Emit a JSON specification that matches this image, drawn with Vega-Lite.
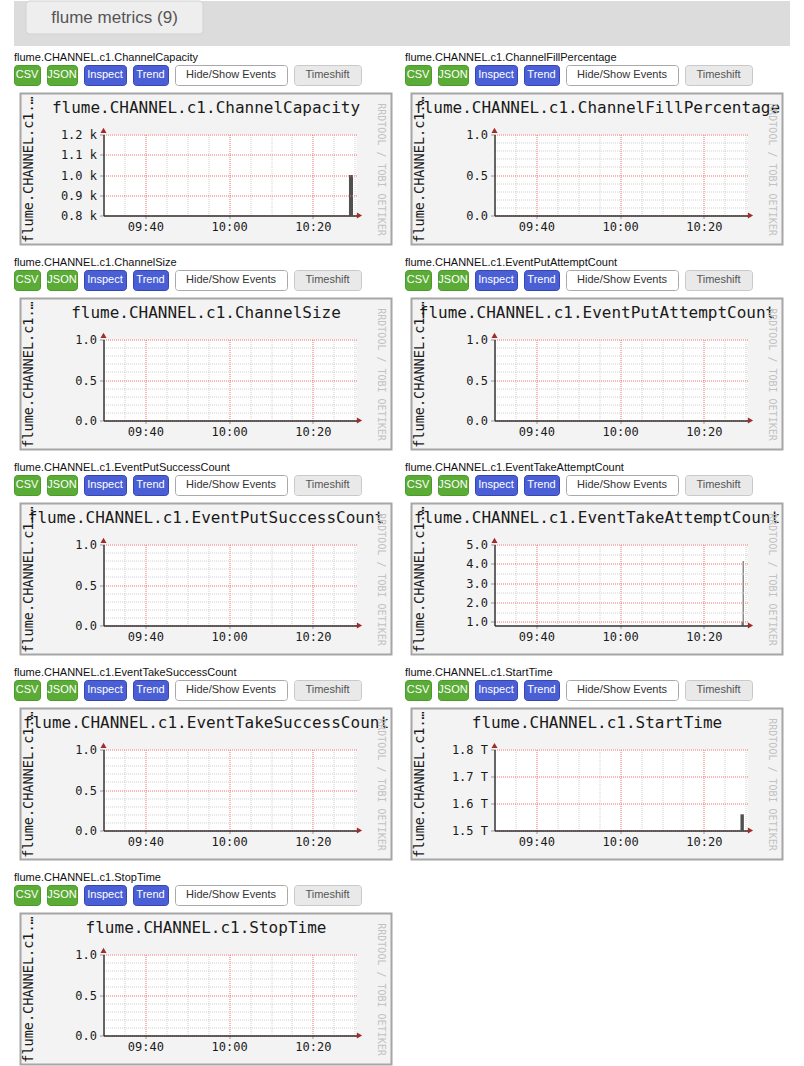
{
"$schema": "https://vega.github.io/schema/vega-lite/v6.json",
"background": "white",
"padding": {"left": 13, "top": 0, "right": 0, "bottom": 0},
"datasets": {
"one": [{"k": 1}],
"cap": [{"t0": "2019-06-08T10:28:37Z", "t1": "2019-06-08T10:29:35Z", "v": 1000}],
"fill": [{"t0": "2019-06-08T10:28:37Z", "t1": "2019-06-08T10:29:35Z", "v": null}],
"size": [{"t0": "2019-06-08T10:28:37Z", "t1": "2019-06-08T10:29:35Z", "v": null}],
"putAttempt": [{"t0": "2019-06-08T10:28:37Z", "t1": "2019-06-08T10:29:35Z", "v": null}],
"putSuccess": [{"t0": "2019-06-08T10:28:37Z", "t1": "2019-06-08T10:29:35Z", "v": null}],
"takeAttempt": [{"t0": "2019-06-08T10:29:00Z", "t1": "2019-06-08T10:29:16Z", "v": 1.0}, {"t0": "2019-06-08T10:29:16Z", "t1": "2019-06-08T10:29:30Z", "v": 4.15}, {"t0": "2019-06-08T10:29:30Z", "t1": "2019-06-08T10:29:34Z", "v": 1.0}],
"takeSuccess": [{"t0": "2019-06-08T10:28:37Z", "t1": "2019-06-08T10:29:35Z", "v": null}],
"start": [{"t0": "2019-06-08T10:28:44Z", "t1": "2019-06-08T10:29:33Z", "v": 1559900000000}],
"stop": [{"t0": "2019-06-08T10:28:37Z", "t1": "2019-06-08T10:29:35Z", "v": null}]
},
"spacing": 5,
"vconcat": [
{"width": 776, "height": 45, "view": {"fill": "#dcdcdc", "stroke": null},
 "data": {"values": [{"label": "flume metrics (9)"}]},
 "layer": [
  {"mark": {"type": "rect", "color": "#eeeeee", "stroke": "#d2d2d2", "cornerRadius": 4},
   "encoding": {"x": {"field": "label", "type": "nominal", "scale": {"range": [12, 189], "paddingInner": 0, "paddingOuter": 0}, "axis": null},
                "y": {"field": "label", "type": "nominal", "scale": {"range": [0, 33], "paddingInner": 0, "paddingOuter": 0}, "axis": null}}},
  {"mark": {"type": "text", "fontSize": 17, "color": "#555555"},
   "encoding": {"x": {"field": "label", "type": "nominal"}, "y": {"field": "label", "type": "nominal"}, "text": {"field": "label"}}}
 ]},
{"spacing": 10, "vconcat": [
{"spacing": 5, "hconcat": [
{"title": {"text": "flume.CHANNEL.c1.ChannelCapacity", "anchor": "start", "frame": "group", "font": "Liberation Sans", "fontSize": 11, "color": "#111111", "offset": -7, "baseline": "alphabetic"},
 "spacing": 6.5, "center": true,
 "vconcat": [
  {"spacing": 7, "bounds": "flush", "hconcat": [
   {"width": 26, "height": 20, "view": {"fill": "#5bab37", "stroke": "#4b9a2b", "cornerRadius": 3}, "data": {"values": [{"b": "CSV"}]}, "mark": {"type": "text", "color": "#ffffff"}, "encoding": {"text": {"field": "b"}}},
   {"width": 30, "height": 20, "view": {"fill": "#5bab37", "stroke": "#4b9a2b", "cornerRadius": 3}, "data": {"values": [{"b": "JSON"}]}, "mark": {"type": "text", "color": "#ffffff"}, "encoding": {"text": {"field": "b"}}},
   {"width": 42, "height": 20, "view": {"fill": "#4a5fd6", "stroke": "#3647b0", "cornerRadius": 3}, "data": {"values": [{"b": "Inspect"}]}, "mark": {"type": "text", "color": "#ffffff"}, "encoding": {"text": {"field": "b"}}},
   {"width": 35, "height": 20, "view": {"fill": "#4a5fd6", "stroke": "#3647b0", "cornerRadius": 3}, "data": {"values": [{"b": "Trend"}]}, "mark": {"type": "text", "color": "#ffffff"}, "encoding": {"text": {"field": "b"}}},
   {"width": 112, "height": 20, "view": {"fill": "#ffffff", "stroke": "#a9a9a9", "cornerRadius": 3}, "data": {"values": [{"b": "Hide/Show Events"}]}, "mark": {"type": "text", "color": "#333333"}, "encoding": {"text": {"field": "b"}}},
   {"width": 67, "height": 20, "view": {"fill": "#e9e9e9", "stroke": "#c9c9c9", "cornerRadius": 3}, "data": {"values": [{"b": "Timeshift"}]}, "mark": {"type": "text", "color": "#555555"}, "encoding": {"text": {"field": "b"}}},
   {"width": 31, "height": 20, "view": {"fill": "#ffffff", "stroke": null}, "data": {"values": [{"b": " "}]}, "mark": {"type": "text"}, "encoding": {"text": {"field": "b"}}}
  ]},
  {"width": 371, "height": 151, "view": {"fill": "#f3f3f3", "stroke": "#a6a6a6", "strokeWidth": 2},
   "title": "flume.CHANNEL.c1.ChannelCapacity",
   "layer": [
    {"data": {"name": "one"}, "mark": {"type": "rect", "color": "#ffffff"},
     "encoding": {
      "x": {"datum": 1559986200000, "type": "temporal", "scale": {"type": "utc", "domain": [1559986200000, 1559989825000], "range": [83, 336]}, "axis": {"orient": "top", "zindex": 1, "values": [1559986500000, 1559986800000, 1559987100000, 1559987400000, 1559987700000, 1559988000000, 1559988300000, 1559988600000, 1559988900000, 1559989200000, 1559989500000, 1559989800000], "gridColor": {"condition": {"test": "datum.value % 1200000 === 0", "value": "#f07070"}, "value": "#d0d0d0"}, "title": null}},
      "x2": {"datum": 1559989825000},
      "y": {"datum": 800, "type": "quantitative", "scale": {"domain": [800, 1200], "range": [122, 41], "nice": false, "zero": false}, "axis": {"orient": "left", "offset": 0, "zindex": 1, "values": [800, 900, 1000, 1100, 1200], "labels": false, "ticks": false, "domain": false, "gridColor": "#f07070", "title": null}},
      "y2": {"datum": 1200}}},
    {"data": {"name": "cap"}, "mark": {"type": "rect", "color": "#505050"},
     "encoding": {
      "x": {"field": "t0", "type": "temporal", "axis": {"orient": "bottom", "zindex": 1, "grid": false, "values": [1559986800000, 1559988000000, 1559989200000], "format": "%H:%M", "title": null}},
      "x2": {"field": "t1"},
      "y": {"field": "v", "type": "quantitative", "axis": {"orient": "left", "zindex": 1, "grid": false, "values": [800, 900, 1000, 1100, 1200], "labelExpr": "format(datum.value/1000, '.1f') + ' k'", "title": "flume.CHANNEL.c1.ChannelCapacity"}},
      "y2": {"datum": 800}}},
    {"data": {"name": "one"}, "mark": {"type": "point", "shape": "triangle-up", "filled": true, "color": "#a02c2c", "opacity": 1, "size": 36, "clip": false},
     "encoding": {"x": {"datum": 1559986200000, "type": "temporal", "axis": null}, "y": {"datum": 1220, "type": "quantitative", "axis": null}}},
    {"data": {"name": "one"}, "mark": {"type": "point", "shape": "triangle-right", "filled": true, "color": "#a02c2c", "opacity": 1, "size": 36, "clip": false},
     "encoding": {"x": {"datum": 1559989868000, "type": "temporal", "axis": null}, "y": {"datum": 800, "type": "quantitative", "axis": {"orient": "right", "zindex": 1, "grid": false, "title": "RRDTOOL / TOBI OETIKER"}}}}
   ],
   "resolve": {"axis": {"x": "independent", "y": "independent"}}}
 ]},
{"title": {"text": "flume.CHANNEL.c1.ChannelFillPercentage", "anchor": "start", "frame": "group", "font": "Liberation Sans", "fontSize": 11, "color": "#111111", "offset": -7, "baseline": "alphabetic"},
 "spacing": 6.5, "center": true,
 "vconcat": [
  {"spacing": 7, "bounds": "flush", "hconcat": [
   {"width": 26, "height": 20, "view": {"fill": "#5bab37", "stroke": "#4b9a2b", "cornerRadius": 3}, "data": {"values": [{"b": "CSV"}]}, "mark": {"type": "text", "color": "#ffffff"}, "encoding": {"text": {"field": "b"}}},
   {"width": 30, "height": 20, "view": {"fill": "#5bab37", "stroke": "#4b9a2b", "cornerRadius": 3}, "data": {"values": [{"b": "JSON"}]}, "mark": {"type": "text", "color": "#ffffff"}, "encoding": {"text": {"field": "b"}}},
   {"width": 42, "height": 20, "view": {"fill": "#4a5fd6", "stroke": "#3647b0", "cornerRadius": 3}, "data": {"values": [{"b": "Inspect"}]}, "mark": {"type": "text", "color": "#ffffff"}, "encoding": {"text": {"field": "b"}}},
   {"width": 35, "height": 20, "view": {"fill": "#4a5fd6", "stroke": "#3647b0", "cornerRadius": 3}, "data": {"values": [{"b": "Trend"}]}, "mark": {"type": "text", "color": "#ffffff"}, "encoding": {"text": {"field": "b"}}},
   {"width": 112, "height": 20, "view": {"fill": "#ffffff", "stroke": "#a9a9a9", "cornerRadius": 3}, "data": {"values": [{"b": "Hide/Show Events"}]}, "mark": {"type": "text", "color": "#333333"}, "encoding": {"text": {"field": "b"}}},
   {"width": 67, "height": 20, "view": {"fill": "#e9e9e9", "stroke": "#c9c9c9", "cornerRadius": 3}, "data": {"values": [{"b": "Timeshift"}]}, "mark": {"type": "text", "color": "#555555"}, "encoding": {"text": {"field": "b"}}},
   {"width": 31, "height": 20, "view": {"fill": "#ffffff", "stroke": null}, "data": {"values": [{"b": " "}]}, "mark": {"type": "text"}, "encoding": {"text": {"field": "b"}}}
  ]},
  {"width": 371, "height": 151, "view": {"fill": "#f3f3f3", "stroke": "#a6a6a6", "strokeWidth": 2},
   "title": "flume.CHANNEL.c1.ChannelFillPercentage",
   "layer": [
    {"data": {"name": "one"}, "mark": {"type": "rect", "color": "#ffffff"},
     "encoding": {
      "x": {"datum": 1559986200000, "type": "temporal", "scale": {"type": "utc", "domain": [1559986200000, 1559989825000], "range": [83, 336]}, "axis": {"orient": "top", "zindex": 1, "values": [1559986500000, 1559986800000, 1559987100000, 1559987400000, 1559987700000, 1559988000000, 1559988300000, 1559988600000, 1559988900000, 1559989200000, 1559989500000, 1559989800000], "gridColor": {"condition": {"test": "datum.value % 1200000 === 0", "value": "#f07070"}, "value": "#d0d0d0"}, "title": null}},
      "x2": {"datum": 1559989825000},
      "y": {"datum": 0, "type": "quantitative", "scale": {"domain": [0, 1], "range": [122, 41], "nice": false, "zero": false}, "axis": {"orient": "left", "offset": 0, "zindex": 1, "values": [0, 0.1, 0.2, 0.3, 0.4, 0.5, 0.6, 0.7, 0.8, 0.9, 1], "labels": false, "ticks": false, "domain": false, "gridColor": {"condition": {"test": "datum.value === 0 || datum.value === 0.5 || datum.value === 1", "value": "#f07070"}, "value": "#d0d0d0"}, "title": null}},
      "y2": {"datum": 1}}},
    {"data": {"name": "fill"}, "mark": {"type": "rect", "color": "#505050"},
     "encoding": {
      "x": {"field": "t0", "type": "temporal", "axis": {"orient": "bottom", "zindex": 1, "grid": false, "values": [1559986800000, 1559988000000, 1559989200000], "format": "%H:%M", "title": null}},
      "x2": {"field": "t1"},
      "y": {"field": "v", "type": "quantitative", "axis": {"orient": "left", "zindex": 1, "grid": false, "values": [0, 0.5, 1], "format": ".1f", "title": "flume.CHANNEL.c1.ChannelFillPercentage"}},
      "y2": {"datum": 0}}},
    {"data": {"name": "one"}, "mark": {"type": "point", "shape": "triangle-up", "filled": true, "color": "#a02c2c", "opacity": 1, "size": 36, "clip": false},
     "encoding": {"x": {"datum": 1559986200000, "type": "temporal", "axis": null}, "y": {"datum": 1.05, "type": "quantitative", "axis": null}}},
    {"data": {"name": "one"}, "mark": {"type": "point", "shape": "triangle-right", "filled": true, "color": "#a02c2c", "opacity": 1, "size": 36, "clip": false},
     "encoding": {"x": {"datum": 1559989868000, "type": "temporal", "axis": null}, "y": {"datum": 0, "type": "quantitative", "axis": {"orient": "right", "zindex": 1, "grid": false, "title": "RRDTOOL / TOBI OETIKER"}}}}
   ],
   "resolve": {"axis": {"x": "independent", "y": "independent"}}}
 ]}
]},
{"spacing": 5, "hconcat": [
{"title": {"text": "flume.CHANNEL.c1.ChannelSize", "anchor": "start", "frame": "group", "font": "Liberation Sans", "fontSize": 11, "color": "#111111", "offset": -7, "baseline": "alphabetic"},
 "spacing": 6.5, "center": true,
 "vconcat": [
  {"spacing": 7, "bounds": "flush", "hconcat": [
   {"width": 26, "height": 20, "view": {"fill": "#5bab37", "stroke": "#4b9a2b", "cornerRadius": 3}, "data": {"values": [{"b": "CSV"}]}, "mark": {"type": "text", "color": "#ffffff"}, "encoding": {"text": {"field": "b"}}},
   {"width": 30, "height": 20, "view": {"fill": "#5bab37", "stroke": "#4b9a2b", "cornerRadius": 3}, "data": {"values": [{"b": "JSON"}]}, "mark": {"type": "text", "color": "#ffffff"}, "encoding": {"text": {"field": "b"}}},
   {"width": 42, "height": 20, "view": {"fill": "#4a5fd6", "stroke": "#3647b0", "cornerRadius": 3}, "data": {"values": [{"b": "Inspect"}]}, "mark": {"type": "text", "color": "#ffffff"}, "encoding": {"text": {"field": "b"}}},
   {"width": 35, "height": 20, "view": {"fill": "#4a5fd6", "stroke": "#3647b0", "cornerRadius": 3}, "data": {"values": [{"b": "Trend"}]}, "mark": {"type": "text", "color": "#ffffff"}, "encoding": {"text": {"field": "b"}}},
   {"width": 112, "height": 20, "view": {"fill": "#ffffff", "stroke": "#a9a9a9", "cornerRadius": 3}, "data": {"values": [{"b": "Hide/Show Events"}]}, "mark": {"type": "text", "color": "#333333"}, "encoding": {"text": {"field": "b"}}},
   {"width": 67, "height": 20, "view": {"fill": "#e9e9e9", "stroke": "#c9c9c9", "cornerRadius": 3}, "data": {"values": [{"b": "Timeshift"}]}, "mark": {"type": "text", "color": "#555555"}, "encoding": {"text": {"field": "b"}}},
   {"width": 31, "height": 20, "view": {"fill": "#ffffff", "stroke": null}, "data": {"values": [{"b": " "}]}, "mark": {"type": "text"}, "encoding": {"text": {"field": "b"}}}
  ]},
  {"width": 371, "height": 151, "view": {"fill": "#f3f3f3", "stroke": "#a6a6a6", "strokeWidth": 2},
   "title": "flume.CHANNEL.c1.ChannelSize",
   "layer": [
    {"data": {"name": "one"}, "mark": {"type": "rect", "color": "#ffffff"},
     "encoding": {
      "x": {"datum": 1559986200000, "type": "temporal", "scale": {"type": "utc", "domain": [1559986200000, 1559989825000], "range": [83, 336]}, "axis": {"orient": "top", "zindex": 1, "values": [1559986500000, 1559986800000, 1559987100000, 1559987400000, 1559987700000, 1559988000000, 1559988300000, 1559988600000, 1559988900000, 1559989200000, 1559989500000, 1559989800000], "gridColor": {"condition": {"test": "datum.value % 1200000 === 0", "value": "#f07070"}, "value": "#d0d0d0"}, "title": null}},
      "x2": {"datum": 1559989825000},
      "y": {"datum": 0, "type": "quantitative", "scale": {"domain": [0, 1], "range": [122, 41], "nice": false, "zero": false}, "axis": {"orient": "left", "offset": 0, "zindex": 1, "values": [0, 0.1, 0.2, 0.3, 0.4, 0.5, 0.6, 0.7, 0.8, 0.9, 1], "labels": false, "ticks": false, "domain": false, "gridColor": {"condition": {"test": "datum.value === 0 || datum.value === 0.5 || datum.value === 1", "value": "#f07070"}, "value": "#d0d0d0"}, "title": null}},
      "y2": {"datum": 1}}},
    {"data": {"name": "size"}, "mark": {"type": "rect", "color": "#505050"},
     "encoding": {
      "x": {"field": "t0", "type": "temporal", "axis": {"orient": "bottom", "zindex": 1, "grid": false, "values": [1559986800000, 1559988000000, 1559989200000], "format": "%H:%M", "title": null}},
      "x2": {"field": "t1"},
      "y": {"field": "v", "type": "quantitative", "axis": {"orient": "left", "zindex": 1, "grid": false, "values": [0, 0.5, 1], "format": ".1f", "title": "flume.CHANNEL.c1.ChannelSize"}},
      "y2": {"datum": 0}}},
    {"data": {"name": "one"}, "mark": {"type": "point", "shape": "triangle-up", "filled": true, "color": "#a02c2c", "opacity": 1, "size": 36, "clip": false},
     "encoding": {"x": {"datum": 1559986200000, "type": "temporal", "axis": null}, "y": {"datum": 1.05, "type": "quantitative", "axis": null}}},
    {"data": {"name": "one"}, "mark": {"type": "point", "shape": "triangle-right", "filled": true, "color": "#a02c2c", "opacity": 1, "size": 36, "clip": false},
     "encoding": {"x": {"datum": 1559989868000, "type": "temporal", "axis": null}, "y": {"datum": 0, "type": "quantitative", "axis": {"orient": "right", "zindex": 1, "grid": false, "title": "RRDTOOL / TOBI OETIKER"}}}}
   ],
   "resolve": {"axis": {"x": "independent", "y": "independent"}}}
 ]},
{"title": {"text": "flume.CHANNEL.c1.EventPutAttemptCount", "anchor": "start", "frame": "group", "font": "Liberation Sans", "fontSize": 11, "color": "#111111", "offset": -7, "baseline": "alphabetic"},
 "spacing": 6.5, "center": true,
 "vconcat": [
  {"spacing": 7, "bounds": "flush", "hconcat": [
   {"width": 26, "height": 20, "view": {"fill": "#5bab37", "stroke": "#4b9a2b", "cornerRadius": 3}, "data": {"values": [{"b": "CSV"}]}, "mark": {"type": "text", "color": "#ffffff"}, "encoding": {"text": {"field": "b"}}},
   {"width": 30, "height": 20, "view": {"fill": "#5bab37", "stroke": "#4b9a2b", "cornerRadius": 3}, "data": {"values": [{"b": "JSON"}]}, "mark": {"type": "text", "color": "#ffffff"}, "encoding": {"text": {"field": "b"}}},
   {"width": 42, "height": 20, "view": {"fill": "#4a5fd6", "stroke": "#3647b0", "cornerRadius": 3}, "data": {"values": [{"b": "Inspect"}]}, "mark": {"type": "text", "color": "#ffffff"}, "encoding": {"text": {"field": "b"}}},
   {"width": 35, "height": 20, "view": {"fill": "#4a5fd6", "stroke": "#3647b0", "cornerRadius": 3}, "data": {"values": [{"b": "Trend"}]}, "mark": {"type": "text", "color": "#ffffff"}, "encoding": {"text": {"field": "b"}}},
   {"width": 112, "height": 20, "view": {"fill": "#ffffff", "stroke": "#a9a9a9", "cornerRadius": 3}, "data": {"values": [{"b": "Hide/Show Events"}]}, "mark": {"type": "text", "color": "#333333"}, "encoding": {"text": {"field": "b"}}},
   {"width": 67, "height": 20, "view": {"fill": "#e9e9e9", "stroke": "#c9c9c9", "cornerRadius": 3}, "data": {"values": [{"b": "Timeshift"}]}, "mark": {"type": "text", "color": "#555555"}, "encoding": {"text": {"field": "b"}}},
   {"width": 31, "height": 20, "view": {"fill": "#ffffff", "stroke": null}, "data": {"values": [{"b": " "}]}, "mark": {"type": "text"}, "encoding": {"text": {"field": "b"}}}
  ]},
  {"width": 371, "height": 151, "view": {"fill": "#f3f3f3", "stroke": "#a6a6a6", "strokeWidth": 2},
   "title": "flume.CHANNEL.c1.EventPutAttemptCount",
   "layer": [
    {"data": {"name": "one"}, "mark": {"type": "rect", "color": "#ffffff"},
     "encoding": {
      "x": {"datum": 1559986200000, "type": "temporal", "scale": {"type": "utc", "domain": [1559986200000, 1559989825000], "range": [83, 336]}, "axis": {"orient": "top", "zindex": 1, "values": [1559986500000, 1559986800000, 1559987100000, 1559987400000, 1559987700000, 1559988000000, 1559988300000, 1559988600000, 1559988900000, 1559989200000, 1559989500000, 1559989800000], "gridColor": {"condition": {"test": "datum.value % 1200000 === 0", "value": "#f07070"}, "value": "#d0d0d0"}, "title": null}},
      "x2": {"datum": 1559989825000},
      "y": {"datum": 0, "type": "quantitative", "scale": {"domain": [0, 1], "range": [122, 41], "nice": false, "zero": false}, "axis": {"orient": "left", "offset": 0, "zindex": 1, "values": [0, 0.1, 0.2, 0.3, 0.4, 0.5, 0.6, 0.7, 0.8, 0.9, 1], "labels": false, "ticks": false, "domain": false, "gridColor": {"condition": {"test": "datum.value === 0 || datum.value === 0.5 || datum.value === 1", "value": "#f07070"}, "value": "#d0d0d0"}, "title": null}},
      "y2": {"datum": 1}}},
    {"data": {"name": "putAttempt"}, "mark": {"type": "rect", "color": "#505050"},
     "encoding": {
      "x": {"field": "t0", "type": "temporal", "axis": {"orient": "bottom", "zindex": 1, "grid": false, "values": [1559986800000, 1559988000000, 1559989200000], "format": "%H:%M", "title": null}},
      "x2": {"field": "t1"},
      "y": {"field": "v", "type": "quantitative", "axis": {"orient": "left", "zindex": 1, "grid": false, "values": [0, 0.5, 1], "format": ".1f", "title": "flume.CHANNEL.c1.EventPutAttemptCount"}},
      "y2": {"datum": 0}}},
    {"data": {"name": "one"}, "mark": {"type": "point", "shape": "triangle-up", "filled": true, "color": "#a02c2c", "opacity": 1, "size": 36, "clip": false},
     "encoding": {"x": {"datum": 1559986200000, "type": "temporal", "axis": null}, "y": {"datum": 1.05, "type": "quantitative", "axis": null}}},
    {"data": {"name": "one"}, "mark": {"type": "point", "shape": "triangle-right", "filled": true, "color": "#a02c2c", "opacity": 1, "size": 36, "clip": false},
     "encoding": {"x": {"datum": 1559989868000, "type": "temporal", "axis": null}, "y": {"datum": 0, "type": "quantitative", "axis": {"orient": "right", "zindex": 1, "grid": false, "title": "RRDTOOL / TOBI OETIKER"}}}}
   ],
   "resolve": {"axis": {"x": "independent", "y": "independent"}}}
 ]}
]},
{"spacing": 5, "hconcat": [
{"title": {"text": "flume.CHANNEL.c1.EventPutSuccessCount", "anchor": "start", "frame": "group", "font": "Liberation Sans", "fontSize": 11, "color": "#111111", "offset": -7, "baseline": "alphabetic"},
 "spacing": 6.5, "center": true,
 "vconcat": [
  {"spacing": 7, "bounds": "flush", "hconcat": [
   {"width": 26, "height": 20, "view": {"fill": "#5bab37", "stroke": "#4b9a2b", "cornerRadius": 3}, "data": {"values": [{"b": "CSV"}]}, "mark": {"type": "text", "color": "#ffffff"}, "encoding": {"text": {"field": "b"}}},
   {"width": 30, "height": 20, "view": {"fill": "#5bab37", "stroke": "#4b9a2b", "cornerRadius": 3}, "data": {"values": [{"b": "JSON"}]}, "mark": {"type": "text", "color": "#ffffff"}, "encoding": {"text": {"field": "b"}}},
   {"width": 42, "height": 20, "view": {"fill": "#4a5fd6", "stroke": "#3647b0", "cornerRadius": 3}, "data": {"values": [{"b": "Inspect"}]}, "mark": {"type": "text", "color": "#ffffff"}, "encoding": {"text": {"field": "b"}}},
   {"width": 35, "height": 20, "view": {"fill": "#4a5fd6", "stroke": "#3647b0", "cornerRadius": 3}, "data": {"values": [{"b": "Trend"}]}, "mark": {"type": "text", "color": "#ffffff"}, "encoding": {"text": {"field": "b"}}},
   {"width": 112, "height": 20, "view": {"fill": "#ffffff", "stroke": "#a9a9a9", "cornerRadius": 3}, "data": {"values": [{"b": "Hide/Show Events"}]}, "mark": {"type": "text", "color": "#333333"}, "encoding": {"text": {"field": "b"}}},
   {"width": 67, "height": 20, "view": {"fill": "#e9e9e9", "stroke": "#c9c9c9", "cornerRadius": 3}, "data": {"values": [{"b": "Timeshift"}]}, "mark": {"type": "text", "color": "#555555"}, "encoding": {"text": {"field": "b"}}},
   {"width": 31, "height": 20, "view": {"fill": "#ffffff", "stroke": null}, "data": {"values": [{"b": " "}]}, "mark": {"type": "text"}, "encoding": {"text": {"field": "b"}}}
  ]},
  {"width": 371, "height": 151, "view": {"fill": "#f3f3f3", "stroke": "#a6a6a6", "strokeWidth": 2},
   "title": "flume.CHANNEL.c1.EventPutSuccessCount",
   "layer": [
    {"data": {"name": "one"}, "mark": {"type": "rect", "color": "#ffffff"},
     "encoding": {
      "x": {"datum": 1559986200000, "type": "temporal", "scale": {"type": "utc", "domain": [1559986200000, 1559989825000], "range": [83, 336]}, "axis": {"orient": "top", "zindex": 1, "values": [1559986500000, 1559986800000, 1559987100000, 1559987400000, 1559987700000, 1559988000000, 1559988300000, 1559988600000, 1559988900000, 1559989200000, 1559989500000, 1559989800000], "gridColor": {"condition": {"test": "datum.value % 1200000 === 0", "value": "#f07070"}, "value": "#d0d0d0"}, "title": null}},
      "x2": {"datum": 1559989825000},
      "y": {"datum": 0, "type": "quantitative", "scale": {"domain": [0, 1], "range": [122, 41], "nice": false, "zero": false}, "axis": {"orient": "left", "offset": 0, "zindex": 1, "values": [0, 0.1, 0.2, 0.3, 0.4, 0.5, 0.6, 0.7, 0.8, 0.9, 1], "labels": false, "ticks": false, "domain": false, "gridColor": {"condition": {"test": "datum.value === 0 || datum.value === 0.5 || datum.value === 1", "value": "#f07070"}, "value": "#d0d0d0"}, "title": null}},
      "y2": {"datum": 1}}},
    {"data": {"name": "putSuccess"}, "mark": {"type": "rect", "color": "#505050"},
     "encoding": {
      "x": {"field": "t0", "type": "temporal", "axis": {"orient": "bottom", "zindex": 1, "grid": false, "values": [1559986800000, 1559988000000, 1559989200000], "format": "%H:%M", "title": null}},
      "x2": {"field": "t1"},
      "y": {"field": "v", "type": "quantitative", "axis": {"orient": "left", "zindex": 1, "grid": false, "values": [0, 0.5, 1], "format": ".1f", "title": "flume.CHANNEL.c1.EventPutSuccessCount"}},
      "y2": {"datum": 0}}},
    {"data": {"name": "one"}, "mark": {"type": "point", "shape": "triangle-up", "filled": true, "color": "#a02c2c", "opacity": 1, "size": 36, "clip": false},
     "encoding": {"x": {"datum": 1559986200000, "type": "temporal", "axis": null}, "y": {"datum": 1.05, "type": "quantitative", "axis": null}}},
    {"data": {"name": "one"}, "mark": {"type": "point", "shape": "triangle-right", "filled": true, "color": "#a02c2c", "opacity": 1, "size": 36, "clip": false},
     "encoding": {"x": {"datum": 1559989868000, "type": "temporal", "axis": null}, "y": {"datum": 0, "type": "quantitative", "axis": {"orient": "right", "zindex": 1, "grid": false, "title": "RRDTOOL / TOBI OETIKER"}}}}
   ],
   "resolve": {"axis": {"x": "independent", "y": "independent"}}}
 ]},
{"title": {"text": "flume.CHANNEL.c1.EventTakeAttemptCount", "anchor": "start", "frame": "group", "font": "Liberation Sans", "fontSize": 11, "color": "#111111", "offset": -7, "baseline": "alphabetic"},
 "spacing": 6.5, "center": true,
 "vconcat": [
  {"spacing": 7, "bounds": "flush", "hconcat": [
   {"width": 26, "height": 20, "view": {"fill": "#5bab37", "stroke": "#4b9a2b", "cornerRadius": 3}, "data": {"values": [{"b": "CSV"}]}, "mark": {"type": "text", "color": "#ffffff"}, "encoding": {"text": {"field": "b"}}},
   {"width": 30, "height": 20, "view": {"fill": "#5bab37", "stroke": "#4b9a2b", "cornerRadius": 3}, "data": {"values": [{"b": "JSON"}]}, "mark": {"type": "text", "color": "#ffffff"}, "encoding": {"text": {"field": "b"}}},
   {"width": 42, "height": 20, "view": {"fill": "#4a5fd6", "stroke": "#3647b0", "cornerRadius": 3}, "data": {"values": [{"b": "Inspect"}]}, "mark": {"type": "text", "color": "#ffffff"}, "encoding": {"text": {"field": "b"}}},
   {"width": 35, "height": 20, "view": {"fill": "#4a5fd6", "stroke": "#3647b0", "cornerRadius": 3}, "data": {"values": [{"b": "Trend"}]}, "mark": {"type": "text", "color": "#ffffff"}, "encoding": {"text": {"field": "b"}}},
   {"width": 112, "height": 20, "view": {"fill": "#ffffff", "stroke": "#a9a9a9", "cornerRadius": 3}, "data": {"values": [{"b": "Hide/Show Events"}]}, "mark": {"type": "text", "color": "#333333"}, "encoding": {"text": {"field": "b"}}},
   {"width": 67, "height": 20, "view": {"fill": "#e9e9e9", "stroke": "#c9c9c9", "cornerRadius": 3}, "data": {"values": [{"b": "Timeshift"}]}, "mark": {"type": "text", "color": "#555555"}, "encoding": {"text": {"field": "b"}}},
   {"width": 31, "height": 20, "view": {"fill": "#ffffff", "stroke": null}, "data": {"values": [{"b": " "}]}, "mark": {"type": "text"}, "encoding": {"text": {"field": "b"}}}
  ]},
  {"width": 371, "height": 151, "view": {"fill": "#f3f3f3", "stroke": "#a6a6a6", "strokeWidth": 2},
   "title": "flume.CHANNEL.c1.EventTakeAttemptCount",
   "layer": [
    {"data": {"name": "one"}, "mark": {"type": "rect", "color": "#ffffff"},
     "encoding": {
      "x": {"datum": 1559986200000, "type": "temporal", "scale": {"type": "utc", "domain": [1559986200000, 1559989825000], "range": [83, 336]}, "axis": {"orient": "top", "zindex": 1, "values": [1559986500000, 1559986800000, 1559987100000, 1559987400000, 1559987700000, 1559988000000, 1559988300000, 1559988600000, 1559988900000, 1559989200000, 1559989500000, 1559989800000], "gridColor": {"condition": {"test": "datum.value % 1200000 === 0", "value": "#f07070"}, "value": "#d0d0d0"}, "title": null}},
      "x2": {"datum": 1559989825000},
      "y": {"datum": 0.8, "type": "quantitative", "scale": {"domain": [0.8, 5], "range": [122, 41], "nice": false, "zero": false}, "axis": {"orient": "left", "offset": 0, "zindex": 1, "values": [1, 1.5, 2, 2.5, 3, 3.5, 4, 4.5, 5], "labels": false, "ticks": false, "domain": false, "gridColor": {"condition": {"test": "datum.value % 1 === 0", "value": "#f07070"}, "value": "#d0d0d0"}, "title": null}},
      "y2": {"datum": 5}}},
    {"data": {"name": "takeAttempt"}, "mark": {"type": "rect", "color": "#505050"},
     "encoding": {
      "x": {"field": "t0", "type": "temporal", "axis": {"orient": "bottom", "zindex": 1, "grid": false, "values": [1559986800000, 1559988000000, 1559989200000], "format": "%H:%M", "title": null}},
      "x2": {"field": "t1"},
      "y": {"field": "v", "type": "quantitative", "axis": {"orient": "left", "zindex": 1, "grid": false, "values": [1, 2, 3, 4, 5], "format": ".1f", "title": "flume.CHANNEL.c1.EventTakeAttemptCount"}},
      "y2": {"datum": 0.8}}},
    {"data": {"name": "one"}, "mark": {"type": "point", "shape": "triangle-up", "filled": true, "color": "#a02c2c", "opacity": 1, "size": 36, "clip": false},
     "encoding": {"x": {"datum": 1559986200000, "type": "temporal", "axis": null}, "y": {"datum": 5.21, "type": "quantitative", "axis": null}}},
    {"data": {"name": "one"}, "mark": {"type": "point", "shape": "triangle-right", "filled": true, "color": "#a02c2c", "opacity": 1, "size": 36, "clip": false},
     "encoding": {"x": {"datum": 1559989868000, "type": "temporal", "axis": null}, "y": {"datum": 0.8, "type": "quantitative", "axis": {"orient": "right", "zindex": 1, "grid": false, "title": "RRDTOOL / TOBI OETIKER"}}}}
   ],
   "resolve": {"axis": {"x": "independent", "y": "independent"}}}
 ]}
]},
{"spacing": 5, "hconcat": [
{"title": {"text": "flume.CHANNEL.c1.EventTakeSuccessCount", "anchor": "start", "frame": "group", "font": "Liberation Sans", "fontSize": 11, "color": "#111111", "offset": -7, "baseline": "alphabetic"},
 "spacing": 6.5, "center": true,
 "vconcat": [
  {"spacing": 7, "bounds": "flush", "hconcat": [
   {"width": 26, "height": 20, "view": {"fill": "#5bab37", "stroke": "#4b9a2b", "cornerRadius": 3}, "data": {"values": [{"b": "CSV"}]}, "mark": {"type": "text", "color": "#ffffff"}, "encoding": {"text": {"field": "b"}}},
   {"width": 30, "height": 20, "view": {"fill": "#5bab37", "stroke": "#4b9a2b", "cornerRadius": 3}, "data": {"values": [{"b": "JSON"}]}, "mark": {"type": "text", "color": "#ffffff"}, "encoding": {"text": {"field": "b"}}},
   {"width": 42, "height": 20, "view": {"fill": "#4a5fd6", "stroke": "#3647b0", "cornerRadius": 3}, "data": {"values": [{"b": "Inspect"}]}, "mark": {"type": "text", "color": "#ffffff"}, "encoding": {"text": {"field": "b"}}},
   {"width": 35, "height": 20, "view": {"fill": "#4a5fd6", "stroke": "#3647b0", "cornerRadius": 3}, "data": {"values": [{"b": "Trend"}]}, "mark": {"type": "text", "color": "#ffffff"}, "encoding": {"text": {"field": "b"}}},
   {"width": 112, "height": 20, "view": {"fill": "#ffffff", "stroke": "#a9a9a9", "cornerRadius": 3}, "data": {"values": [{"b": "Hide/Show Events"}]}, "mark": {"type": "text", "color": "#333333"}, "encoding": {"text": {"field": "b"}}},
   {"width": 67, "height": 20, "view": {"fill": "#e9e9e9", "stroke": "#c9c9c9", "cornerRadius": 3}, "data": {"values": [{"b": "Timeshift"}]}, "mark": {"type": "text", "color": "#555555"}, "encoding": {"text": {"field": "b"}}},
   {"width": 31, "height": 20, "view": {"fill": "#ffffff", "stroke": null}, "data": {"values": [{"b": " "}]}, "mark": {"type": "text"}, "encoding": {"text": {"field": "b"}}}
  ]},
  {"width": 371, "height": 151, "view": {"fill": "#f3f3f3", "stroke": "#a6a6a6", "strokeWidth": 2},
   "title": "flume.CHANNEL.c1.EventTakeSuccessCount",
   "layer": [
    {"data": {"name": "one"}, "mark": {"type": "rect", "color": "#ffffff"},
     "encoding": {
      "x": {"datum": 1559986200000, "type": "temporal", "scale": {"type": "utc", "domain": [1559986200000, 1559989825000], "range": [83, 336]}, "axis": {"orient": "top", "zindex": 1, "values": [1559986500000, 1559986800000, 1559987100000, 1559987400000, 1559987700000, 1559988000000, 1559988300000, 1559988600000, 1559988900000, 1559989200000, 1559989500000, 1559989800000], "gridColor": {"condition": {"test": "datum.value % 1200000 === 0", "value": "#f07070"}, "value": "#d0d0d0"}, "title": null}},
      "x2": {"datum": 1559989825000},
      "y": {"datum": 0, "type": "quantitative", "scale": {"domain": [0, 1], "range": [122, 41], "nice": false, "zero": false}, "axis": {"orient": "left", "offset": 0, "zindex": 1, "values": [0, 0.1, 0.2, 0.3, 0.4, 0.5, 0.6, 0.7, 0.8, 0.9, 1], "labels": false, "ticks": false, "domain": false, "gridColor": {"condition": {"test": "datum.value === 0 || datum.value === 0.5 || datum.value === 1", "value": "#f07070"}, "value": "#d0d0d0"}, "title": null}},
      "y2": {"datum": 1}}},
    {"data": {"name": "takeSuccess"}, "mark": {"type": "rect", "color": "#505050"},
     "encoding": {
      "x": {"field": "t0", "type": "temporal", "axis": {"orient": "bottom", "zindex": 1, "grid": false, "values": [1559986800000, 1559988000000, 1559989200000], "format": "%H:%M", "title": null}},
      "x2": {"field": "t1"},
      "y": {"field": "v", "type": "quantitative", "axis": {"orient": "left", "zindex": 1, "grid": false, "values": [0, 0.5, 1], "format": ".1f", "title": "flume.CHANNEL.c1.EventTakeSuccessCount"}},
      "y2": {"datum": 0}}},
    {"data": {"name": "one"}, "mark": {"type": "point", "shape": "triangle-up", "filled": true, "color": "#a02c2c", "opacity": 1, "size": 36, "clip": false},
     "encoding": {"x": {"datum": 1559986200000, "type": "temporal", "axis": null}, "y": {"datum": 1.05, "type": "quantitative", "axis": null}}},
    {"data": {"name": "one"}, "mark": {"type": "point", "shape": "triangle-right", "filled": true, "color": "#a02c2c", "opacity": 1, "size": 36, "clip": false},
     "encoding": {"x": {"datum": 1559989868000, "type": "temporal", "axis": null}, "y": {"datum": 0, "type": "quantitative", "axis": {"orient": "right", "zindex": 1, "grid": false, "title": "RRDTOOL / TOBI OETIKER"}}}}
   ],
   "resolve": {"axis": {"x": "independent", "y": "independent"}}}
 ]},
{"title": {"text": "flume.CHANNEL.c1.StartTime", "anchor": "start", "frame": "group", "font": "Liberation Sans", "fontSize": 11, "color": "#111111", "offset": -7, "baseline": "alphabetic"},
 "spacing": 6.5, "center": true,
 "vconcat": [
  {"spacing": 7, "bounds": "flush", "hconcat": [
   {"width": 26, "height": 20, "view": {"fill": "#5bab37", "stroke": "#4b9a2b", "cornerRadius": 3}, "data": {"values": [{"b": "CSV"}]}, "mark": {"type": "text", "color": "#ffffff"}, "encoding": {"text": {"field": "b"}}},
   {"width": 30, "height": 20, "view": {"fill": "#5bab37", "stroke": "#4b9a2b", "cornerRadius": 3}, "data": {"values": [{"b": "JSON"}]}, "mark": {"type": "text", "color": "#ffffff"}, "encoding": {"text": {"field": "b"}}},
   {"width": 42, "height": 20, "view": {"fill": "#4a5fd6", "stroke": "#3647b0", "cornerRadius": 3}, "data": {"values": [{"b": "Inspect"}]}, "mark": {"type": "text", "color": "#ffffff"}, "encoding": {"text": {"field": "b"}}},
   {"width": 35, "height": 20, "view": {"fill": "#4a5fd6", "stroke": "#3647b0", "cornerRadius": 3}, "data": {"values": [{"b": "Trend"}]}, "mark": {"type": "text", "color": "#ffffff"}, "encoding": {"text": {"field": "b"}}},
   {"width": 112, "height": 20, "view": {"fill": "#ffffff", "stroke": "#a9a9a9", "cornerRadius": 3}, "data": {"values": [{"b": "Hide/Show Events"}]}, "mark": {"type": "text", "color": "#333333"}, "encoding": {"text": {"field": "b"}}},
   {"width": 67, "height": 20, "view": {"fill": "#e9e9e9", "stroke": "#c9c9c9", "cornerRadius": 3}, "data": {"values": [{"b": "Timeshift"}]}, "mark": {"type": "text", "color": "#555555"}, "encoding": {"text": {"field": "b"}}},
   {"width": 31, "height": 20, "view": {"fill": "#ffffff", "stroke": null}, "data": {"values": [{"b": " "}]}, "mark": {"type": "text"}, "encoding": {"text": {"field": "b"}}}
  ]},
  {"width": 371, "height": 151, "view": {"fill": "#f3f3f3", "stroke": "#a6a6a6", "strokeWidth": 2},
   "title": "flume.CHANNEL.c1.StartTime",
   "layer": [
    {"data": {"name": "one"}, "mark": {"type": "rect", "color": "#ffffff"},
     "encoding": {
      "x": {"datum": 1559986200000, "type": "temporal", "scale": {"type": "utc", "domain": [1559986200000, 1559989825000], "range": [83, 336]}, "axis": {"orient": "top", "zindex": 1, "values": [1559986500000, 1559986800000, 1559987100000, 1559987400000, 1559987700000, 1559988000000, 1559988300000, 1559988600000, 1559988900000, 1559989200000, 1559989500000, 1559989800000], "gridColor": {"condition": {"test": "datum.value % 1200000 === 0", "value": "#f07070"}, "value": "#d0d0d0"}, "title": null}},
      "x2": {"datum": 1559989825000},
      "y": {"datum": 1500000000000, "type": "quantitative", "scale": {"domain": [1500000000000, 1800000000000], "range": [122, 41], "nice": false, "zero": false}, "axis": {"orient": "left", "offset": 0, "zindex": 1, "values": [1500000000000, 1600000000000, 1700000000000, 1800000000000], "labels": false, "ticks": false, "domain": false, "gridColor": "#f07070", "title": null}},
      "y2": {"datum": 1800000000000}}},
    {"data": {"name": "start"}, "mark": {"type": "rect", "color": "#505050"},
     "encoding": {
      "x": {"field": "t0", "type": "temporal", "axis": {"orient": "bottom", "zindex": 1, "grid": false, "values": [1559986800000, 1559988000000, 1559989200000], "format": "%H:%M", "title": null}},
      "x2": {"field": "t1"},
      "y": {"field": "v", "type": "quantitative", "axis": {"orient": "left", "zindex": 1, "grid": false, "values": [1500000000000, 1600000000000, 1700000000000, 1800000000000], "labelExpr": "format(datum.value/1e12, '.1f') + ' T'", "title": "flume.CHANNEL.c1.StartTime"}},
      "y2": {"datum": 1500000000000}}},
    {"data": {"name": "one"}, "mark": {"type": "point", "shape": "triangle-up", "filled": true, "color": "#a02c2c", "opacity": 1, "size": 36, "clip": false},
     "encoding": {"x": {"datum": 1559986200000, "type": "temporal", "axis": null}, "y": {"datum": 1814800000000, "type": "quantitative", "axis": null}}},
    {"data": {"name": "one"}, "mark": {"type": "point", "shape": "triangle-right", "filled": true, "color": "#a02c2c", "opacity": 1, "size": 36, "clip": false},
     "encoding": {"x": {"datum": 1559989868000, "type": "temporal", "axis": null}, "y": {"datum": 1500000000000, "type": "quantitative", "axis": {"orient": "right", "zindex": 1, "grid": false, "title": "RRDTOOL / TOBI OETIKER"}}}}
   ],
   "resolve": {"axis": {"x": "independent", "y": "independent"}}}
 ]}
]},
{"spacing": 5, "hconcat": [
{"title": {"text": "flume.CHANNEL.c1.StopTime", "anchor": "start", "frame": "group", "font": "Liberation Sans", "fontSize": 11, "color": "#111111", "offset": -7, "baseline": "alphabetic"},
 "spacing": 6.5, "center": true,
 "vconcat": [
  {"spacing": 7, "bounds": "flush", "hconcat": [
   {"width": 26, "height": 20, "view": {"fill": "#5bab37", "stroke": "#4b9a2b", "cornerRadius": 3}, "data": {"values": [{"b": "CSV"}]}, "mark": {"type": "text", "color": "#ffffff"}, "encoding": {"text": {"field": "b"}}},
   {"width": 30, "height": 20, "view": {"fill": "#5bab37", "stroke": "#4b9a2b", "cornerRadius": 3}, "data": {"values": [{"b": "JSON"}]}, "mark": {"type": "text", "color": "#ffffff"}, "encoding": {"text": {"field": "b"}}},
   {"width": 42, "height": 20, "view": {"fill": "#4a5fd6", "stroke": "#3647b0", "cornerRadius": 3}, "data": {"values": [{"b": "Inspect"}]}, "mark": {"type": "text", "color": "#ffffff"}, "encoding": {"text": {"field": "b"}}},
   {"width": 35, "height": 20, "view": {"fill": "#4a5fd6", "stroke": "#3647b0", "cornerRadius": 3}, "data": {"values": [{"b": "Trend"}]}, "mark": {"type": "text", "color": "#ffffff"}, "encoding": {"text": {"field": "b"}}},
   {"width": 112, "height": 20, "view": {"fill": "#ffffff", "stroke": "#a9a9a9", "cornerRadius": 3}, "data": {"values": [{"b": "Hide/Show Events"}]}, "mark": {"type": "text", "color": "#333333"}, "encoding": {"text": {"field": "b"}}},
   {"width": 67, "height": 20, "view": {"fill": "#e9e9e9", "stroke": "#c9c9c9", "cornerRadius": 3}, "data": {"values": [{"b": "Timeshift"}]}, "mark": {"type": "text", "color": "#555555"}, "encoding": {"text": {"field": "b"}}},
   {"width": 31, "height": 20, "view": {"fill": "#ffffff", "stroke": null}, "data": {"values": [{"b": " "}]}, "mark": {"type": "text"}, "encoding": {"text": {"field": "b"}}}
  ]},
  {"width": 371, "height": 151, "view": {"fill": "#f3f3f3", "stroke": "#a6a6a6", "strokeWidth": 2},
   "title": "flume.CHANNEL.c1.StopTime",
   "layer": [
    {"data": {"name": "one"}, "mark": {"type": "rect", "color": "#ffffff"},
     "encoding": {
      "x": {"datum": 1559986200000, "type": "temporal", "scale": {"type": "utc", "domain": [1559986200000, 1559989825000], "range": [83, 336]}, "axis": {"orient": "top", "zindex": 1, "values": [1559986500000, 1559986800000, 1559987100000, 1559987400000, 1559987700000, 1559988000000, 1559988300000, 1559988600000, 1559988900000, 1559989200000, 1559989500000, 1559989800000], "gridColor": {"condition": {"test": "datum.value % 1200000 === 0", "value": "#f07070"}, "value": "#d0d0d0"}, "title": null}},
      "x2": {"datum": 1559989825000},
      "y": {"datum": 0, "type": "quantitative", "scale": {"domain": [0, 1], "range": [122, 41], "nice": false, "zero": false}, "axis": {"orient": "left", "offset": 0, "zindex": 1, "values": [0, 0.1, 0.2, 0.3, 0.4, 0.5, 0.6, 0.7, 0.8, 0.9, 1], "labels": false, "ticks": false, "domain": false, "gridColor": {"condition": {"test": "datum.value === 0 || datum.value === 0.5 || datum.value === 1", "value": "#f07070"}, "value": "#d0d0d0"}, "title": null}},
      "y2": {"datum": 1}}},
    {"data": {"name": "stop"}, "mark": {"type": "rect", "color": "#505050"},
     "encoding": {
      "x": {"field": "t0", "type": "temporal", "axis": {"orient": "bottom", "zindex": 1, "grid": false, "values": [1559986800000, 1559988000000, 1559989200000], "format": "%H:%M", "title": null}},
      "x2": {"field": "t1"},
      "y": {"field": "v", "type": "quantitative", "axis": {"orient": "left", "zindex": 1, "grid": false, "values": [0, 0.5, 1], "format": ".1f", "title": "flume.CHANNEL.c1.StopTime"}},
      "y2": {"datum": 0}}},
    {"data": {"name": "one"}, "mark": {"type": "point", "shape": "triangle-up", "filled": true, "color": "#a02c2c", "opacity": 1, "size": 36, "clip": false},
     "encoding": {"x": {"datum": 1559986200000, "type": "temporal", "axis": null}, "y": {"datum": 1.05, "type": "quantitative", "axis": null}}},
    {"data": {"name": "one"}, "mark": {"type": "point", "shape": "triangle-right", "filled": true, "color": "#a02c2c", "opacity": 1, "size": 36, "clip": false},
     "encoding": {"x": {"datum": 1559989868000, "type": "temporal", "axis": null}, "y": {"datum": 0, "type": "quantitative", "axis": {"orient": "right", "zindex": 1, "grid": false, "title": "RRDTOOL / TOBI OETIKER"}}}}
   ],
   "resolve": {"axis": {"x": "independent", "y": "independent"}}}
 ]}
]}
]}
],
"config": {
 "view": {"stroke": null},
 "text": {"font": "Liberation Sans", "fontSize": 11},
 "title": {"font": "DejaVu Sans Mono", "fontSize": 16, "fontWeight": "normal", "color": "#1a1a1a", "anchor": "middle", "frame": "group", "offset": -22, "baseline": "alphabetic"},
 "axis": {"labelFont": "DejaVu Sans Mono", "labelFontSize": 12, "labelColor": "#1a1a1a", "titleFont": "DejaVu Sans Mono", "titleFontWeight": "normal", "gridDash": [1, 1], "gridOpacity": 1, "labelFlush": false, "labelOverlap": false},
 "axisBottom": {"offset": -29, "grid": false, "domainColor": "#333333", "domainWidth": 1.5, "tickColor": "#999999", "tickSize": 3, "labelPadding": 3},
 "axisLeft": {"offset": -83, "grid": true, "gridColor": "#f07070", "domainColor": "#333333", "domainWidth": 1.5, "tickColor": "#999999", "tickSize": 4, "labelPadding": 3, "titleFontSize": 13.5, "titleColor": "#1a1a1a", "titleAngle": 270, "titleX": -75, "titleY": 75.5, "titleAlign": "center", "titleBaseline": "middle", "titleLimit": 150},
 "axisTop": {"labels": false, "ticks": false, "domain": false, "grid": true, "gridColor": "#d0d0d0"},
 "axisRight": {"labels": false, "ticks": false, "domain": false, "grid": false, "titleFontSize": 10, "titleColor": "#c2c2c2", "titleAngle": 90, "titleX": -11, "titleY": 75.5, "titleAlign": "center", "titleBaseline": "middle", "titleLimit": 200}
}
}
